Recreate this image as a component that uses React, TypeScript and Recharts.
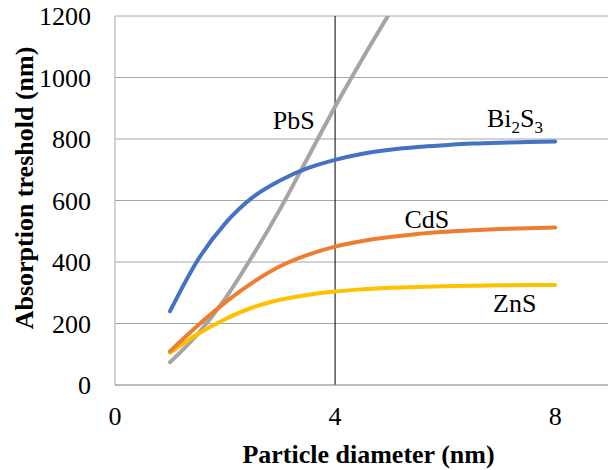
import {
  CartesianGrid,
  Label,
  Line,
  LineChart,
  ReferenceDot,
  ReferenceLine,
  XAxis,
  YAxis,
} from 'recharts';

// particle diameter (nm)
const diameters = [1, 1.5, 2, 2.5, 3, 3.5, 4, 4.5, 5, 5.5, 6, 6.5, 7, 7.5, 8];
// absorption threshold (nm)
const bi2s3 = [240, 405, 525, 610, 665, 705, 732, 752, 765, 774, 780, 785, 788, 790, 792];
const cds = [110, 193, 268, 333, 386, 423, 450, 468, 481, 491, 498, 503, 507, 510, 512];
const zns = [105, 165, 214, 252, 277, 293, 304, 311, 316, 319, 321, 323, 324, 325, 325];
const pbs = [74, 165, 280, 420, 572, 738, 905, 1062, 1212]; // goes off the top

const xTicks = [0, 4, 8];
const yTicks = [0, 200, 400, 600, 800, 1000, 1200];

// series names written next to the curves (data coords of text anchor / baseline)
const seriesLabels = [
  { x: 3.25, y: 832, text: 'PbS', anchor: 'middle' },
  { x: 6.76, y: 840, text: 'Bi2S3', anchor: 'start' },
  { x: 5.26, y: 510, text: 'CdS', anchor: 'start' },
  { x: 6.87, y: 238, text: 'ZnS', anchor: 'start' },
];

const data = diameters.map((x, i) => ({
  x,
  bi2s3: bi2s3[i],
  cds: cds[i],
  zns: zns[i],
  pbs: i < pbs.length ? pbs[i] : null,
}));

const FONT = "'Liberation Serif', 'Times New Roman', serif";
const GRID = '#a6a6a6';
const txt = { fontFamily: FONT };

function SeriesText({ viewBox, text, anchor }: any) {
  const x = viewBox.x + viewBox.width / 2;
  const y = viewBox.y + viewBox.height / 2;
  if (text === 'Bi2S3') {
    return (
      <text x={x} y={y} textAnchor={anchor} style={txt} fontSize={26} fill="#000">
        Bi
        <tspan dy={6} fontSize={17}>2</tspan>
        <tspan dy={-6} fontSize={26}>S</tspan>
        <tspan dy={6} fontSize={17}>3</tspan>
      </text>
    );
  }
  return (
    <text x={x} y={y} textAnchor={anchor} style={txt} fontSize={26} fill="#000">
      {text}
    </text>
  );
}

export default function App() {
  return (
    <div style={{ width: 608, height: 470, fontFamily: FONT }}>
      <style>{'body{margin:0}'}</style>
      <LineChart
        width={608}
        height={470}
        data={data}
        margin={{ top: 16, right: 0, bottom: 0, left: 0 }}
        style={txt}
      >
        <CartesianGrid vertical={false} stroke={GRID} strokeWidth={1} />
        <XAxis
          type="number"
          dataKey="x"
          domain={[0, 8.96]}
          ticks={xTicks}
          height={85}
          tickSize={0}
          tickMargin={22}
          axisLine={{ stroke: GRID }}
          tick={{ style: txt, fontSize: 26, fill: '#000' }}
        >
          <Label
            content={({ viewBox }: any) => (
              <text
                x={viewBox.x + viewBox.width / 2 + 7}
                y={viewBox.y + 78}
                textAnchor="middle"
                style={txt}
                fontSize={26}
                fontWeight="bold"
                fill="#000"
              >
                Particle diameter (nm)
              </text>
            )}
          />
        </XAxis>
        <YAxis
          type="number"
          domain={[0, 1200]}
          ticks={yTicks}
          allowDataOverflow
          width={115}
          tickSize={0}
          tickMargin={24}
          axisLine={{ stroke: GRID }}
          tick={{ style: txt, fontSize: 26, fill: '#000' }}
        >
          <Label
            content={() => (
              <text
                x={24}
                y={188}
                transform="rotate(-90 24 188)"
                textAnchor="middle"
                dominantBaseline="central"
                style={txt}
                fontSize={26}
                fontWeight="bold"
                fill="#000"
              >
                Absorption treshold (nm)
              </text>
            )}
          />
        </YAxis>

        <ReferenceLine x={4} stroke="#000" strokeWidth={1} />

        <Line dataKey="pbs" stroke="#A5A5A5" strokeWidth={4} dot={false} type="monotone" strokeLinecap="round" isAnimationActive={false} />
        <Line dataKey="zns" stroke="#FFC000" strokeWidth={4} dot={false} type="monotone" strokeLinecap="round" isAnimationActive={false} />
        <Line dataKey="cds" stroke="#ED7D31" strokeWidth={4} dot={false} type="monotone" strokeLinecap="round" isAnimationActive={false} />
        <Line dataKey="bi2s3" stroke="#4472C4" strokeWidth={4} dot={false} type="monotone" strokeLinecap="round" isAnimationActive={false} />

        {seriesLabels.map((l) => (
          <ReferenceDot
            key={l.text}
            x={l.x}
            y={l.y}
            r={1}
            fill="none"
            stroke="none"
            label={<SeriesText text={l.text} anchor={l.anchor} />}
          />
        ))}
      </LineChart>
    </div>
  );
}
